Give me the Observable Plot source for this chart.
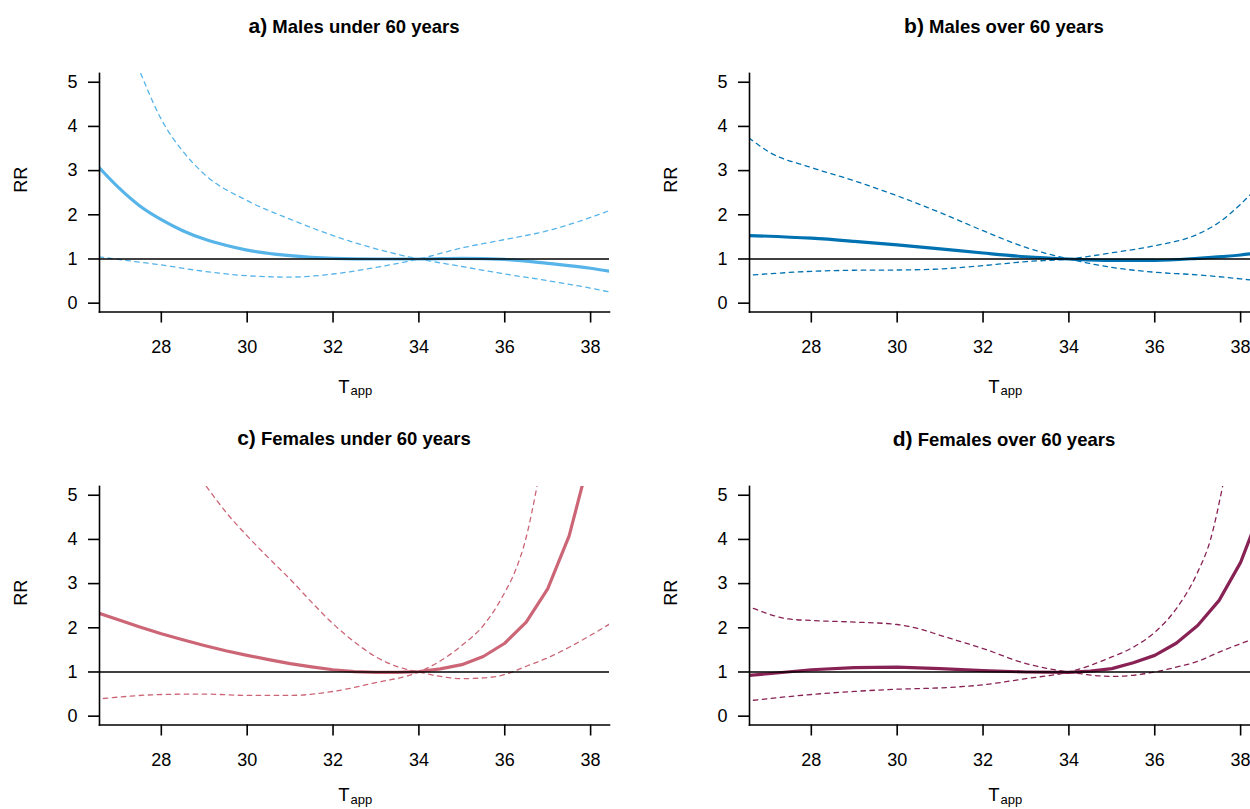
<!DOCTYPE html>
<html>
<head>
<meta charset="utf-8">
<script src="https://cdn.jsdelivr.net/npm/d3@7"></script>
<script src="https://cdn.jsdelivr.net/npm/@observablehq/plot@0.6"></script>
<style>
html, body { margin: 0; padding: 0; background: #fff; overflow: hidden; width: 1250px; height: 809px; }
#wrap { position: relative; width: 1250px; height: 809px; overflow: hidden; font-family: "Liberation Sans", Arial, Helvetica, sans-serif; color: #000; }
.panel { position: absolute; }
.panel svg { max-width: none !important; display: block; }
.title { position: absolute; white-space: nowrap; font-weight: bold; transform: translateX(-50%); font-size: 21px; line-height: 24px; }
.title .txt { font-size: 18.5px; }
</style>
</head>
<body>
<div id="wrap"></div>
<script>
// ---------- data ----------
const xTicks = [28, 30, 32, 34, 36, 38];
const yTicks = [0, 1, 2, 3, 4, 5];
const titles = ["Males under 60 years", "Males over 60 years", "Females under 60 years", "Females over 60 years"];
const letters = ["a)", "b)", "c)", "d)"];
const colors = ["#56B4E9", "#0072B2", "#CC6677", "#882255"];

// a) Males under 60
const aFitX = [26.55, 27, 27.5, 28, 28.5, 29, 29.5, 30, 31, 32, 33, 34, 35, 36, 37, 38, 38.45];
const aFit  = [3.07, 2.62, 2.20, 1.89, 1.64, 1.45, 1.31, 1.20, 1.075, 1.015, 1.0, 1.0, 1.015, 0.99, 0.90, 0.79, 0.72];
const aD1X  = [27.52, 28, 28.5, 29, 30, 31, 32, 33, 34, 35, 36, 37, 38, 38.45];
const aD1   = [5.2, 4.16, 3.44, 2.92, 2.32, 1.90, 1.53, 1.23, 1.0, 0.83, 0.66, 0.51, 0.34, 0.25];
const aD2X  = [26.55, 27, 28, 29, 30, 31, 32, 33, 34, 35, 36, 37, 38, 38.45];
const aD2   = [1.05, 0.99, 0.865, 0.72, 0.62, 0.59, 0.66, 0.81, 1.0, 1.25, 1.44, 1.64, 1.94, 2.10];

// b) Males over 60
const bFitX = [26.55, 28, 29, 30, 31, 32, 33, 34, 35, 36, 37, 38, 38.45];
const bFit  = [1.53, 1.47, 1.40, 1.32, 1.23, 1.135, 1.05, 1.0, 0.97, 0.97, 1.015, 1.09, 1.14];
const bD1X  = [26.55, 27, 28, 29, 30, 31, 32, 33, 34, 35, 36, 37, 38, 38.45];
const bD1   = [3.74, 3.43, 3.07, 2.77, 2.43, 2.05, 1.64, 1.26, 1.0, 0.81, 0.70, 0.64, 0.55, 0.50];
const bD2X  = [26.65, 28, 29, 30, 31, 32, 33, 34, 35, 36, 37, 37.5, 38, 38.45];
const bD2   = [0.64, 0.72, 0.745, 0.75, 0.775, 0.85, 0.94, 1.0, 1.14, 1.30, 1.56, 1.83, 2.24, 2.68];

// c) Females under 60
const cFitX = [26.55, 27, 27.5, 28, 28.5, 29, 29.5, 30, 30.5, 31, 31.5, 32, 32.5, 33, 33.5, 34, 34.5, 35, 35.5, 36, 36.5, 37, 37.5, 37.8];
const cFit  = [2.33, 2.18, 2.02, 1.865, 1.73, 1.60, 1.48, 1.376, 1.28, 1.19, 1.115, 1.05, 1.01, 0.99, 0.99, 1.01, 1.07, 1.165, 1.35, 1.65, 2.13, 2.88, 4.08, 5.2];
const cD1X  = [29.05, 29.58, 30, 30.5, 31, 31.5, 32, 32.5, 33, 33.5, 34, 34.5, 35, 35.5, 36, 36.5, 37, 37.5, 38, 38.45];
const cD1   = [5.2, 4.53, 4.08, 3.58, 3.10, 2.58, 2.09, 1.68, 1.34, 1.12, 1.0, 0.90, 0.85, 0.865, 0.94, 1.13, 1.32, 1.56, 1.83, 2.09];
const cD2X  = [26.65, 28, 29, 30, 31, 32, 33, 34, 34.5, 35, 35.5, 36, 36.25, 36.5, 36.75];
const cD2   = [0.40, 0.49, 0.50, 0.47, 0.47, 0.56, 0.76, 1.0, 1.25, 1.60, 2.05, 2.80, 3.30, 4.05, 5.2];

// d) Females over 60
const dFitX = [26.55, 27, 28, 29, 30, 31, 32, 33, 34, 34.5, 35, 35.5, 36, 36.5, 37, 37.5, 38, 38.45];
const dFit  = [0.925, 0.96, 1.05, 1.10, 1.11, 1.075, 1.03, 1.0, 0.99, 1.02, 1.075, 1.21, 1.376, 1.65, 2.05, 2.62, 3.48, 4.62];
const dD1X  = [26.65, 27.47, 28, 29, 30, 30.5, 31, 32, 33, 34, 35, 35.5, 36, 36.5, 37, 37.5, 38, 38.45];
const dD1   = [2.44, 2.20, 2.165, 2.13, 2.075, 1.98, 1.83, 1.53, 1.19, 1.0, 0.90, 0.925, 1.0, 1.11, 1.24, 1.45, 1.64, 1.80];
const dD2X  = [26.65, 28, 29, 30, 31, 32, 33, 34, 35, 35.5, 36, 36.5, 37, 37.3, 37.58];
const dD2   = [0.36, 0.49, 0.56, 0.61, 0.64, 0.71, 0.85, 1.0, 1.34, 1.56, 1.90, 2.43, 3.26, 4.0, 5.2];

const panels = [
  {fitX: aFitX, fit: aFit, d1X: aD1X, d1: aD1, d2X: aD2X, d2: aD2},
  {fitX: bFitX, fit: bFit, d1X: bD1X, d1: bD1, d2X: bD2X, d2: bD2},
  {fitX: cFitX, fit: cFit, d1X: cD1X, d1: cD1, d2X: cD2X, d2: cD2},
  {fitX: dFitX, fit: dFit, d1X: dD1X, d1: dD1, d2X: dD2X, d2: dD2}
];

// ---------- layout ----------
const layout = [
  {left: 0,   top: 0,   width: 625, height: 405, ml: 99,  mt: 72.9, mb: 93.5, titleTop: 13.7,  xlabDy: 80.5},
  {left: 625, top: 0,   width: 650, height: 405, ml: 124, mt: 72.9, mb: 93.5, titleTop: 13.7,  xlabDy: 80.5},
  {left: 0,   top: 405, width: 625, height: 404, ml: 99,  mt: 80.9, mb: 84.5, titleTop: 425.7, xlabDy: 76},
  {left: 625, top: 405, width: 650, height: 404, ml: 124, mt: 80.9, mb: 84.5, titleTop: 427.2, xlabDy: 76}
];

const font = '"Liberation Sans", Arial, Helvetica, sans-serif';
const toRows = (xs, ys) => xs.map((x, i) => ({t: x, rr: ys[i]}));

const wrap = document.getElementById("wrap");

panels.forEach((p, i) => {
  const L = layout[i];
  const col = colors[i];
  const chart = Plot.plot({
    width: L.width,
    height: L.height,
    marginLeft: L.ml,
    marginRight: 16,
    marginTop: L.mt,
    marginBottom: L.mb,
    style: {fontFamily: font, fontSize: "18px", background: "transparent", color: "#000", overflow: "visible"},
    x: {domain: [26.56, 38.44], label: null},
    y: {domain: [-0.2, 5.2], label: null},
    marks: [
      Plot.line(toRows(p.d1X, p.d1), {x: "t", y: "rr", stroke: col, strokeWidth: 1.3, strokeDasharray: "4.5,4.5", curve: "monotone-x", clip: true}),
      Plot.line(toRows(p.d2X, p.d2), {x: "t", y: "rr", stroke: col, strokeWidth: 1.3, strokeDasharray: "4.5,4.5", curve: "monotone-x", clip: true}),
      Plot.line(toRows(p.fitX, p.fit), {x: "t", y: "rr", stroke: col, strokeWidth: 3.2, curve: (i >= 2 ? "linear" : "monotone-x"), clip: true}),
      Plot.ruleY([1], {stroke: "#000", strokeWidth: 1.4}),
      Plot.axisX({ticks: xTicks, tickFormat: d => String(d), tickSize: 11, tickPadding: 17.5, fontSize: 18, strokeWidth: 1.6, label: null}),
      Plot.axisY({ticks: yTicks, tickFormat: d => String(d), tickSize: 11, tickPadding: 11, fontSize: 18, strokeWidth: 1.6, label: null}),
      Plot.frame({anchor: "left", stroke: "#000", strokeWidth: 1.6}),
      Plot.frame({anchor: "bottom", stroke: "#000", strokeWidth: 1.6}),
      Plot.text(["RR"], {frameAnchor: "left", dx: -78, rotate: -90, fontSize: 18, fill: "#000"}),
      Plot.text(["T"], {frameAnchor: "bottom", dx: -5, dy: L.xlabDy, textAnchor: "end", lineAnchor: "bottom", fontSize: 18.5, fill: "#000"}),
      Plot.text(["app"], {frameAnchor: "bottom", dx: -4, dy: L.xlabDy + 2.5, textAnchor: "start", lineAnchor: "bottom", fontSize: 13, fill: "#000"})
    ]
  });
  chart.style.maxWidth = "none";
  const holder = document.createElement("div");
  holder.className = "panel";
  holder.style.left = L.left + "px";
  holder.style.top = L.top + "px";
  holder.style.width = L.width + "px";
  holder.style.height = L.height + "px";
  holder.appendChild(chart);
  wrap.appendChild(holder);

  const t = document.createElement("div");
  t.className = "title";
  t.style.left = (L.left + L.ml + (L.width - L.ml - 16) / 2) + "px";
  t.style.top = L.titleTop + "px";
  const s1 = document.createElement("span");
  s1.textContent = letters[i];
  const s2 = document.createElement("span");
  s2.className = "txt";
  s2.textContent = " " + titles[i];
  t.appendChild(s1);
  t.appendChild(s2);
  wrap.appendChild(t);
});
</script>
</body>
</html>
